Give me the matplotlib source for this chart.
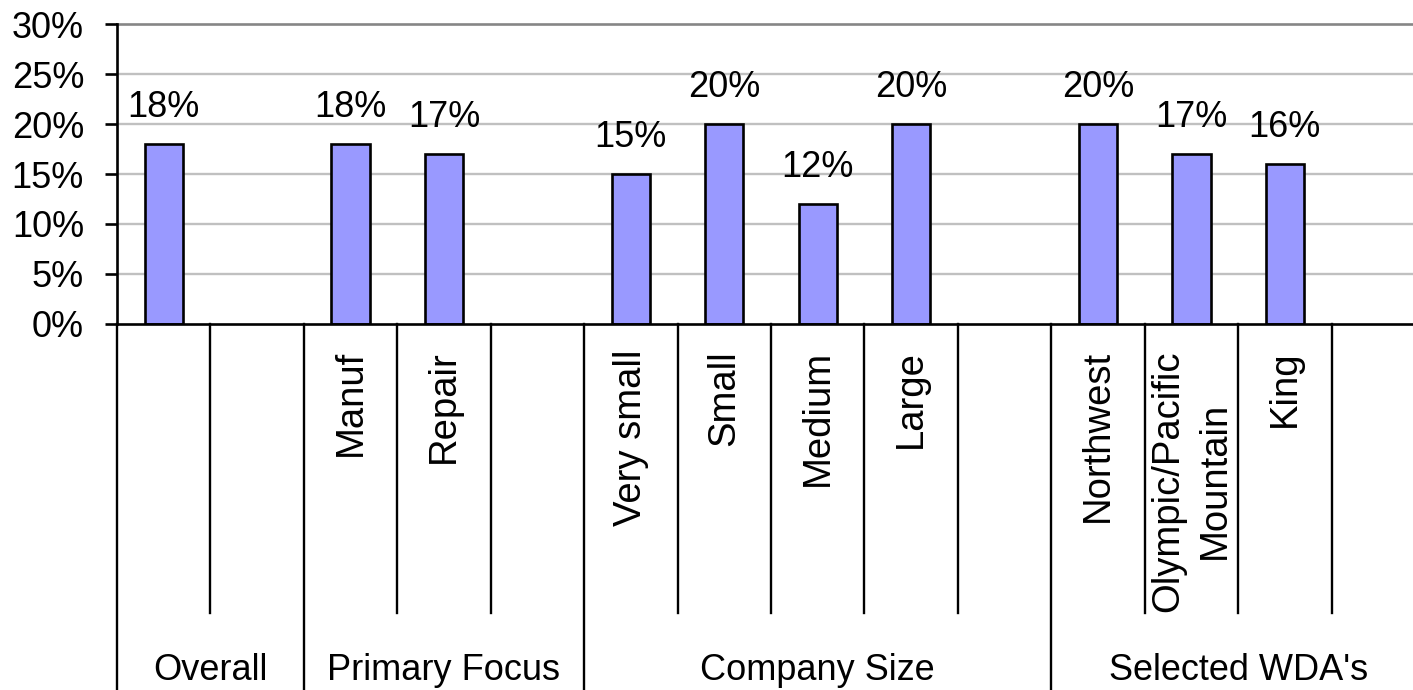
import matplotlib
matplotlib.use("Agg")
import matplotlib.pyplot as plt
from matplotlib.lines import Line2D
import matplotlib.transforms as mtransforms

plt.rcParams['font.family'] = ['Liberation Sans', 'DejaVu Sans']

# Sub-category labels per slot ("" = spacer slot or unnamed category)
sub_labels = ["", "", "Manuf", "Repair", "", "Very small", "Small", "Medium",
              "Large", "", "Northwest", "Olympic/Pacific\nMountain", "King", ""]
# Percent values per slot (None = no bar)
values = [18, None, 18, 17, None, 15, 20, 12, 20, None, 20, 17, 16, None]
# Group headings: (label, first slot, slot after last)
groups = [("Overall", 0, 2), ("Primary Focus", 2, 5),
          ("Company Size", 5, 10), ("Selected WDA's", 10, 14)]
y_ticks = [0, 5, 10, 15, 20, 25, 30]

W, H = 1413, 690
DPI = 100
PX = 72.0 / DPI  # points per pixel
FS = 26          # horizontal text
FS_ROT = 27.5    # rotated category text

fig = plt.figure(figsize=(W / DPI, H / DPI), dpi=DPI)
fig.patch.set_facecolor("white")

left_px, right_px = 117, 1425
top_px, base_px = 24, 324
ax = fig.add_axes([left_px / W, (H - base_px) / H,
                   (right_px - left_px) / W, (base_px - top_px) / H])

n = len(values)
ax.set_xlim(-0.5, n - 0.5)
ax.set_ylim(0, 30)

# horizontal gridlines
for t in y_ticks[1:-1]:
    ax.axhline(t, color="#c0c0c0", lw=1.7, zorder=0)
ax.axhline(y_ticks[-1], color="#868686", lw=1.9, zorder=0, clip_on=False)

# bars and value labels
for i, v in enumerate(values):
    if v is None:
        continue
    ax.bar(i, v, width=0.41, color="#9999ff", edgecolor="black",
           linewidth=1.9, zorder=2)
    ax.annotate(f"{v}%", xy=(i, v), xytext=(0, 27 * PX),
                textcoords="offset points", ha="center", va="baseline",
                fontsize=FS, color="black", zorder=3)

# axes styling
for s in ("top", "right"):
    ax.spines[s].set_visible(False)
for s in ("left", "bottom"):
    ax.spines[s].set_linewidth(1.9)
    ax.spines[s].set_color("black")
ax.set_xticks([])
ax.set_yticks(y_ticks)
ax.set_yticklabels([f"{t}%" for t in y_ticks], fontsize=FS)
ax.tick_params(axis="y", direction="out", length=12 * PX, width=1.9,
               pad=21 * PX, colors="black")

trans = mtransforms.blended_transform_factory(ax.transData, ax.transAxes)
plot_h = base_px - top_px
inner_bottom = (base_px - 613) / plot_h
outer_bottom = (base_px - H) / plot_h

# separator lines under the axis
group_edges = {g[1] for g in groups}
for k in range(0, n + 1):
    x = k - 0.5
    yb = outer_bottom if k in group_edges else inner_bottom
    ax.add_line(Line2D([x, x], [0, yb], transform=trans, color="black",
                       lw=1.7, clip_on=False))

# rotated sub-category labels
for i, lab in enumerate(sub_labels):
    if not lab:
        continue
    ax.annotate(lab, xy=(i, 0), xycoords=trans, xytext=(0, -26 * PX),
                textcoords="offset points", rotation=90, ha="center",
                va="top", fontsize=FS_ROT, multialignment="center",
                linespacing=1.37)

# group headings
y_group = (base_px - 680) / plot_h
for name, a, b in groups:
    ax.text((a + b - 1) / 2.0, y_group, name, transform=trans,
            ha="center", va="baseline", fontsize=FS)

fig.savefig("out.png", dpi=DPI, facecolor="white")
